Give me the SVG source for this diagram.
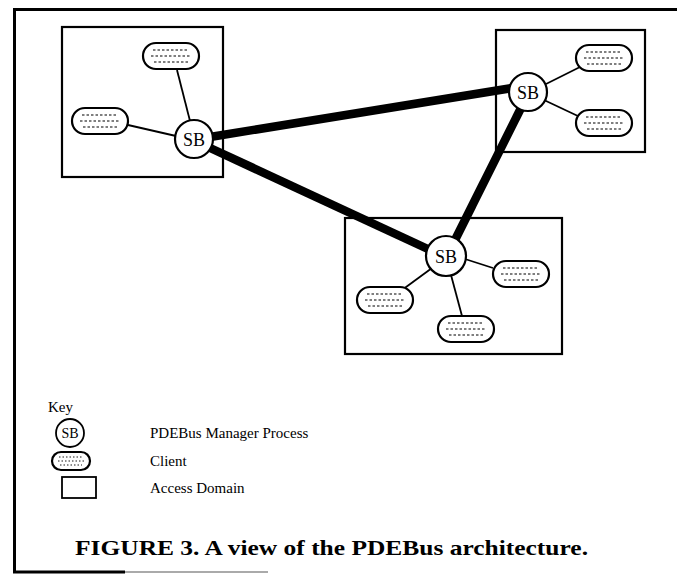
<svg xmlns="http://www.w3.org/2000/svg" xmlns:xlink="http://www.w3.org/1999/xlink" width="677" height="584" viewBox="0 0 677 584">
<style>
.frame{stroke:#000;stroke-width:3;fill:none}
.domain{fill:none;stroke:#000;stroke-width:2.2}
.sb{fill:#fff;stroke:#000;stroke-width:2.2}
.sbt{font-family:"Liberation Serif",serif;font-size:18px;text-anchor:middle;fill:#000}
.thin{stroke:#000;stroke-width:1.8;fill:none}
.thick{stroke:#000;stroke-width:8.5;fill:none}
.pill{fill:#fff;stroke:#000;stroke-width:2.2}
.dots{stroke:#000;stroke-width:1.1;stroke-dasharray:2.5 2;fill:none}
.txt{font-family:"Liberation Serif",serif;font-size:15px;fill:#000}
.cap{font-family:"Liberation Serif",serif;font-size:21px;font-weight:bold;fill:#000}
</style>
<defs>
<g id="client">
<rect class="pill" x="-28" y="-13" width="56" height="26" rx="13"/>
<line class="dots" x1="-18" y1="-6" x2="18" y2="-6"/>
<line class="dots" x1="-20" y1="0" x2="20" y2="0"/>
<line class="dots" x1="-17" y1="6" x2="17" y2="6"/>
</g>
<g id="client-small">
<rect class="pill" x="-19" y="-9" width="38" height="18" rx="9"/>
<line class="dots" x1="-12" y1="-4" x2="12" y2="-4" style="stroke-width:0.9;stroke-dasharray:1.5 2"/>
<line class="dots" x1="-13" y1="0" x2="13" y2="0" style="stroke-width:0.9;stroke-dasharray:1.5 2"/>
<line class="dots" x1="-11" y1="4" x2="11" y2="4" style="stroke-width:0.9;stroke-dasharray:1.5 2"/>
</g>
</defs>
<rect width="677" height="584" fill="#fff"/>
<g id="frame">
<polyline class="frame" points="677,9.5 14.5,9.5 14.5,572 125,572"/>
<line x1="125" y1="572" x2="268" y2="572" stroke="#aaa" stroke-width="2"/>
</g>
<g id="domains">
<rect id="domain-1" class="domain" x="62" y="27" width="161" height="150"/>
<rect id="domain-2" class="domain" x="496" y="30" width="149" height="122"/>
<rect id="domain-3" class="domain" x="345" y="218" width="217" height="136"/>
</g>
<g id="connectors">
<line class="thick" x1="210" y1="137" x2="512" y2="88"/>
<line class="thick" x1="208" y1="147" x2="430" y2="250"/>
<line class="thick" x1="521" y1="108" x2="455" y2="240"/>
<line class="thin" x1="177" y1="70" x2="190" y2="121"/>
<line class="thin" x1="128" y1="125" x2="176" y2="136"/>
<line class="thin" x1="546" y1="84" x2="580" y2="67"/>
<line class="thin" x1="544" y1="100" x2="580" y2="117"/>
<line class="thin" x1="465" y1="259" x2="493" y2="268"/>
<line class="thin" x1="432" y1="268" x2="402" y2="290"/>
<line class="thin" x1="451" y1="275" x2="462" y2="316"/>
</g>
<g id="sb-1"><circle class="sb" cx="194" cy="139" r="19"/><text class="sbt" x="194" y="145.5">SB</text></g>
<g id="sb-2"><circle class="sb" cx="528" cy="92" r="19"/><text class="sbt" x="528" y="98.5">SB</text></g>
<g id="sb-3"><circle class="sb" cx="446" cy="256" r="20"/><text class="sbt" x="446" y="262.5">SB</text></g>
<g id="client-1"><use xlink:href="#client" x="171" y="56"/></g>
<g id="client-2"><use xlink:href="#client" x="100" y="121"/></g>
<g id="client-3"><use xlink:href="#client" x="604" y="58"/></g>
<g id="client-4"><use xlink:href="#client" x="604" y="123"/></g>
<g id="client-5"><use xlink:href="#client" x="521" y="274"/></g>
<g id="client-6"><use xlink:href="#client" x="385" y="300"/></g>
<g id="client-7"><use xlink:href="#client" x="466" y="329"/></g>
<g id="key">
<text class="txt" x="48" y="412">Key</text>
<g id="key-sb"><circle class="sb" cx="70" cy="433" r="14" style="stroke-width:1.8"/><text class="sbt" x="70" y="438" style="font-size:14px">SB</text></g>
<text class="txt" x="150" y="438">PDEBus Manager Process</text>
<g id="key-client"><use xlink:href="#client-small" x="71" y="461"/></g>
<text class="txt" x="150" y="466">Client</text>
<rect id="key-domain" class="domain" x="62" y="477" width="34" height="21" style="stroke-width:1.8"/>
<text class="txt" x="150" y="493">Access Domain</text>
</g>
<text id="caption" class="cap" x="75" y="555" textLength="513" lengthAdjust="spacingAndGlyphs">FIGURE 3. A view of the PDEBus architecture.</text>
</svg>
